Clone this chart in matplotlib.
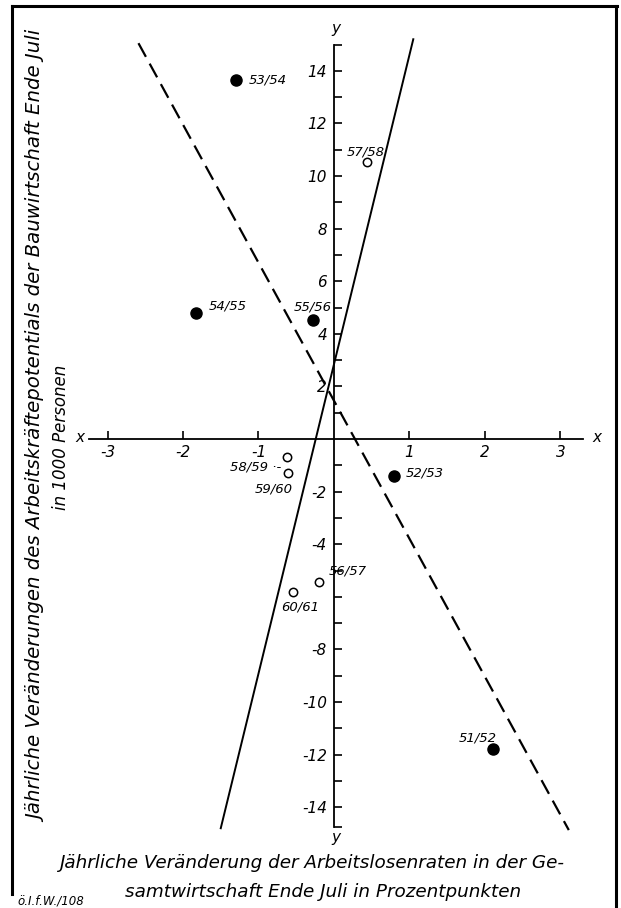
import matplotlib
matplotlib.use("Agg")
import matplotlib.pyplot as plt
from matplotlib.lines import Line2D

plt.rcParams['font.family'] = ['DejaVu Sans']
plt.rcParams['font.style'] = 'italic'

# --- data ---
years_filled = ["53/54", "54/55", "55/56", "52/53", "51/52"]
x_filled = [-1.30, -1.83, -0.28, 0.80, 2.10]
y_filled = [13.64, 4.78, 4.53, -1.40, -11.79]

years_open = ["57/58", "58/59", "59/60", "56/57", "60/61"]
x_open = [0.44, -0.62, -0.61, -0.20, -0.54]
y_open = [10.55, -0.70, -1.31, -5.43, -5.81]

# regression lines (end points)
solid_x = [-1.50, 1.05]
solid_y = [-14.8, 15.2]
dashed_x = [-2.59, 3.11]
dashed_y = [15.05, -14.87]

xticks = [-3, -2, -1, 1, 2, 3]
yticks = [-14, -12, -10, -8, -6, -4, -2, 2, 4, 6, 8, 10, 12, 14]
yticks_labeled = [-14, -12, -10, -8, -4, -2, 2, 4, 6, 8, 10, 12, 14]
yminor = [-13, -11, -9, -7, -5, -3, -1, 1, 3, 5, 7, 9, 11, 13, 15]

# label offsets in points (layout only)
label_pos = {
    "53/54": (9, 0, "left", "center"),
    "54/55": (9, 5, "left", "center"),
    "55/56": (0, 9, "center", "center"),
    "52/53": (8, 2, "left", "center"),
    "51/52": (-11, 8, "center", "center"),
    "57/58": (-1, 7, "center", "center"),
    "58/59": (-4, -7, "right", "center"),
    "59/60": (-10, -11, "center", "center"),
    "56/57": (7, 8, "left", "center"),
    "60/61": (5, -11, "center", "center"),
}
label_text = {"58/59": "58/59 ·-"}

# --- layout: pixel mapping of the original ---
W, H = 621, 908
ox, oy = 334, 439        # origin in pixels
ux, uy = 75.5, 26.3      # pixels per unit

fig = plt.figure(figsize=(W / 100, H / 100), dpi=100)
ax = fig.add_axes([0, 0, 1, 1])
ax.set_xlim(-ox / ux, (W - ox) / ux)
ax.set_ylim((oy - H) / uy, oy / uy)
ax.patch.set_visible(False)

for s in ["top", "right"]:
    ax.spines[s].set_visible(False)
ax.spines["left"].set_position(("data", 0))
ax.spines["bottom"].set_position(("data", 0))
ax.spines["left"].set_bounds(-14.75, 15)
ax.spines["bottom"].set_bounds(-3.25, 3.3)
ax.spines["left"].set_linewidth(1.3)
ax.spines["bottom"].set_linewidth(1.3)

ax.set_xticks(xticks)
ax.set_xticklabels([str(t) for t in xticks])
ax.set_yticks(yticks)
ax.set_yticklabels([(str(t) if t in yticks_labeled else "") for t in yticks])
ax.set_yticks(yminor + [-14.75], minor=True)
ax.tick_params(axis="x", direction="in", length=6, width=1.2, pad=4, labelsize=11)
ax.tick_params(axis="y", which="both", direction="in", length=6, width=1.2, pad=5, labelsize=11)

# axis end letters
ax.text(-3.36, 0.05, "x", ha="center", va="center", fontsize=11)
ax.text(3.48, 0.05, "x", ha="center", va="center", fontsize=11)
ax.text(0.02, 15.6, "y", ha="center", va="center", fontsize=11)
ax.text(0.02, -15.15, "y", ha="center", va="center", fontsize=11)

# lines
ax.plot(solid_x, solid_y, color="black", lw=1.4)
ax.plot(dashed_x, dashed_y, color="black", lw=1.6, dashes=(7, 3.5))

# points
ax.plot(x_filled, y_filled, "o", color="black", ms=8)
ax.plot(x_open, y_open, "o", mfc="white", mec="black", mew=1.1, ms=6)

for names, xs, ys in [(years_filled, x_filled, y_filled), (years_open, x_open, y_open)]:
    for name, x, y in zip(names, xs, ys):
        dx, dy, ha, va = label_pos[name]
        ax.annotate(label_text.get(name, name), (x, y), xytext=(dx, dy),
                    textcoords="offset points", ha=ha, va=va, fontsize=9.5)

# axis titles
fig.text(38 / W, 1 - 427 / H,
         "Jährliche Veränderungen des Arbeitskräftepotentials der Bauwirtschaft Ende Juli",
         rotation=90, ha="center", va="center", fontsize=14.2)
fig.text(61 / W, 1 - 437 / H, "in 1000 Personen",
         rotation=90, ha="center", va="center", fontsize=12)
fig.text(312 / W, 1 - 863 / H,
         "Jährliche Veränderung der Arbeitslosenraten in der Ge-",
         ha="center", va="center", fontsize=13.2)
fig.text(323 / W, 1 - 892 / H,
         "samtwirtschaft Ende Juli in Prozentpunkten",
         ha="center", va="center", fontsize=13.2)
fig.text(17 / W, 1 - 895 / H, "ö.I.f.W./108", ha="left", va="top", fontsize=8.5)

# frame
fig.add_artist(Line2D([12 / W, 617 / W], [1 - 6 / H, 1 - 6 / H], color="black", lw=2.2))
fig.add_artist(Line2D([12 / W, 12 / W], [1 - 6 / H, 1 - 894 / H], color="black", lw=2.2))
fig.add_artist(Line2D([616 / W, 616 / W], [1 - 6 / H, 0], color="black", lw=2.2))

fig.savefig("out.png", dpi=100)
